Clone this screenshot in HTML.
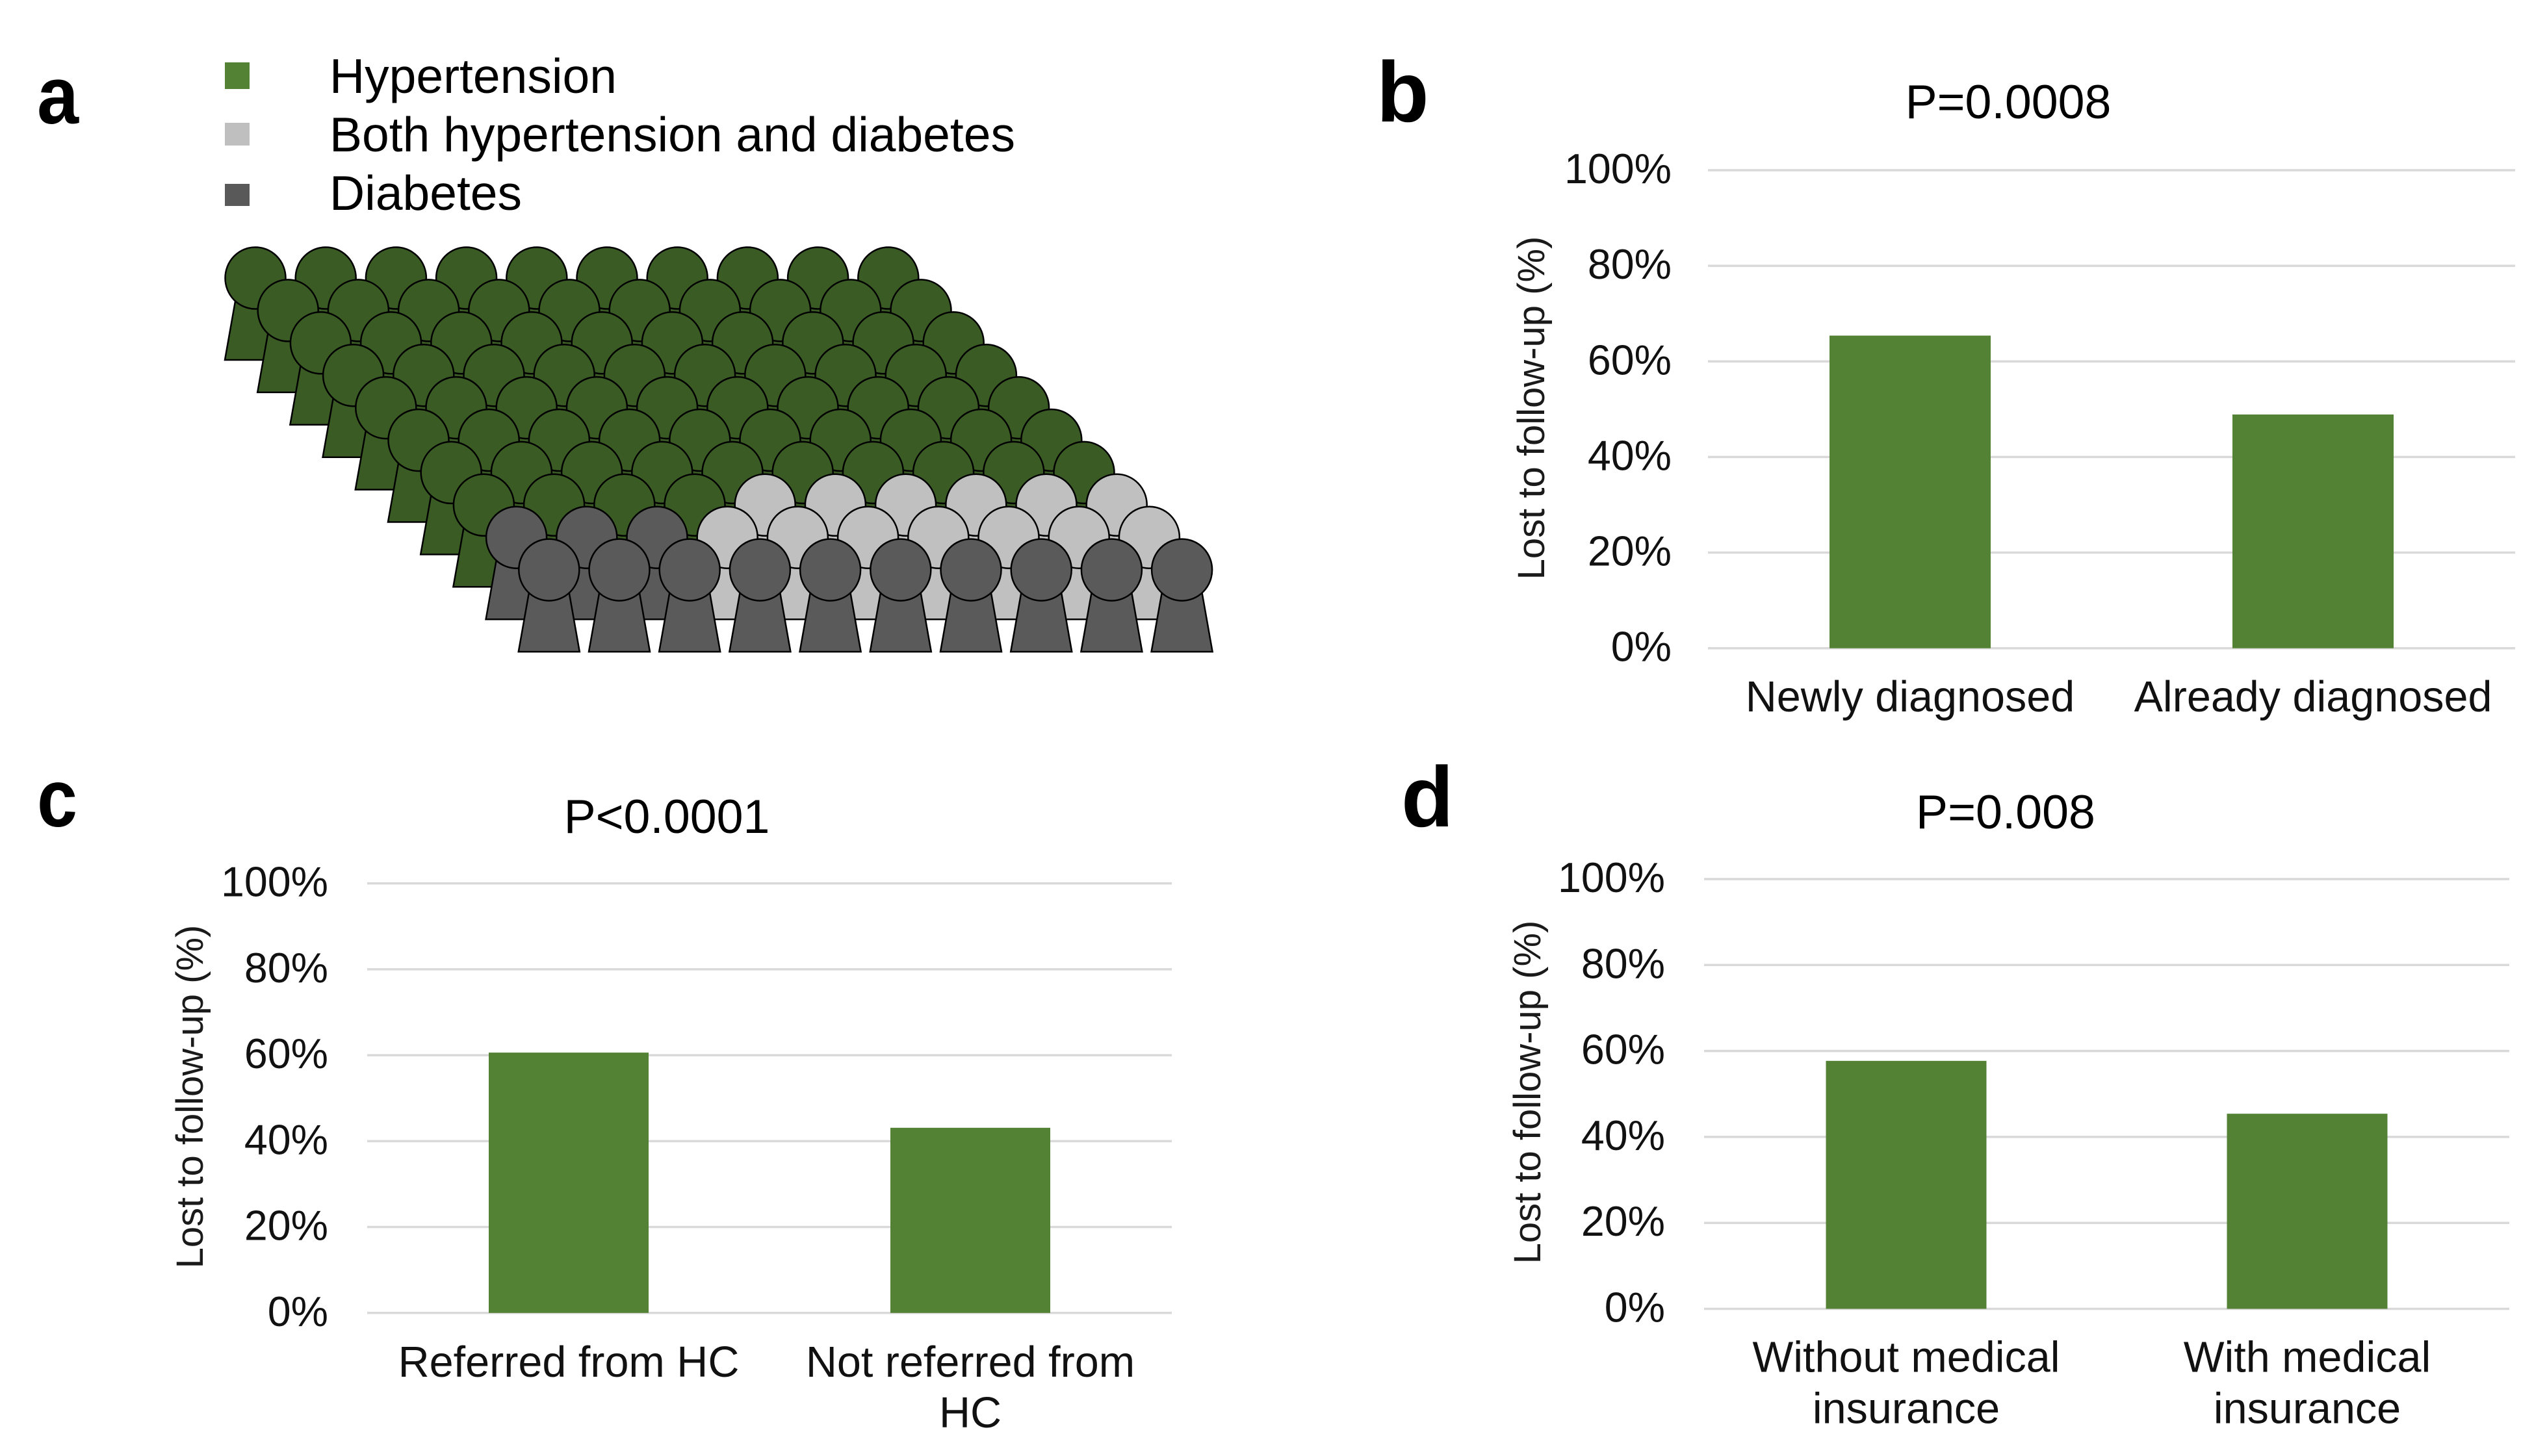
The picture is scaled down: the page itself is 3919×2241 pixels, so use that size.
<!DOCTYPE html>
<html lang="en">
<head>
<meta charset="utf-8">
<title>Lost to follow-up figure</title>
<style>
html,body{margin:0;padding:0;background:#fff;}
svg{display:block;}
text{font-family:"Liberation Sans",Arial,sans-serif;fill:#000;}
.panel-letter{font-weight:700;font-size:132px;}
.panel-letter-narrow{font-weight:700;font-size:125px;}
.legend-text{font-size:75px;}
.title{font-size:73.5px;text-anchor:middle;}
.y-title{font-size:58px;text-anchor:middle;fill:#1a1a1a;}
.tick{font-size:64.5px;text-anchor:end;fill:#111;}
.cat{font-size:66.5px;text-anchor:middle;fill:#111;}
</style>
</head>
<body>
<svg id="figure" xmlns="http://www.w3.org/2000/svg" width="3919" height="2241" viewBox="0 0 3919 2241">
  <rect x="0" y="0" width="3919" height="2241" fill="#ffffff"/>

  <text class="panel-letter-narrow" x="57" y="190" textLength="64" lengthAdjust="spacingAndGlyphs">a</text>
  <text class="panel-letter" x="2118" y="187">b</text>
  <text class="panel-letter-narrow" x="57" y="1272" textLength="62" lengthAdjust="spacingAndGlyphs">c</text>
  <text class="panel-letter" x="2156" y="1272">d</text>

  <g>
    <rect x="346" y="96" width="38" height="41" fill="#548235"/>
    <text class="legend-text" x="507" y="143">Hypertension</text>
    <rect x="346" y="189" width="38" height="35" fill="#bfbfbf"/>
    <text class="legend-text" x="507" y="233">Both hypertension and diabetes</text>
    <rect x="346" y="283" width="38" height="34" fill="#595959"/>
    <text class="legend-text" x="507" y="323">Diabetes</text>
  </g>

  <g id="pictogram"></g>

  <text class="title" x="3090" y="182">P=0.0008</text>
  <text class="y-title" transform="translate(2376 628) rotate(-90)">Lost to follow-up (%)</text>
  <g id="chart-b"></g>

  <text class="title" x="1026" y="1282">P&lt;0.0001</text>
  <text class="y-title" transform="translate(312 1688) rotate(-90)">Lost to follow-up (%)</text>
  <g id="chart-c"></g>

  <text class="title" x="3086" y="1275">P=0.008</text>
  <text class="y-title" transform="translate(2370 1681) rotate(-90)">Lost to follow-up (%)</text>
  <g id="chart-d"></g>
</svg>

<script>
// ---- Chart data ----
const tickValues = [0, 20, 40, 60, 80, 100];
const tickLabels = ["0%", "20%", "40%", "60%", "80%", "100%"];

const panelBCategories = [["Newly diagnosed"], ["Already diagnosed"]];
const panelBValues = [65.4, 48.9];

const panelCCategories = [["Referred from HC"], ["Not referred from", "HC"]];
const panelCValues = [60.6, 43.1];

const panelDCategories = [["Without medical", "insurance"], ["With medical", "insurance"]];
const panelDValues = [57.7, 45.4];

// Pictogram: people per row (back row first)
const rowHypertension = [10, 10, 10, 10, 10, 10, 10, 4, 0, 0];
const rowDiabetes     = [0, 0, 0, 0, 0, 0, 0, 0, 3, 10];
const rowBoth         = [0, 0, 0, 0, 0, 0, 0, 6, 7, 0];

// ---- Drawing ----
const NS = "http://www.w3.org/2000/svg";

function make(tag, parent, attrs) {
  const el = document.createElementNS(NS, tag);
  for (const k in attrs) el.setAttribute(k, attrs[k]);
  parent.appendChild(el);
  return el;
}

function drawChart(parentId, categories, values, frame) {
  const parent = document.getElementById(parentId);
  const yScale = v => frame.y0 + (frame.y100 - frame.y0) * v / 100;

  tickValues.forEach((t, i) => {
    const grid = make("line", parent, {
      x1: frame.left, x2: frame.right, y1: yScale(t), y2: yScale(t),
      stroke: "#d9d9d9", "stroke-width": 3.5
    });
    
    

    const label = make("text", parent, {
      class: "tick", x: frame.tickRight, y: yScale(t) + 20
    });
    label.textContent = tickLabels[i];
    
    
  });

  values.forEach((v, i) => {
    const bar = make("rect", parent, {
      x: frame.barCenters[i] - frame.barWidth / 2,
      y: yScale(v),
      width: frame.barWidth,
      height: yScale(0) - yScale(v),
      fill: "#548235"
    });
    
    

    categories[i].forEach((line, j) => {
      const cat = make("text", parent, {
        class: "cat", x: frame.barCenters[i], y: frame.catBaseline + j * frame.catLeading
      });
      cat.textContent = line;
      
      
    });
  });
}

drawChart("chart-b", panelBCategories, panelBValues, {
  left: 2628, right: 3870, y0: 997.7, y100: 262, tickRight: 2572,
  barCenters: [2939, 3559], barWidth: 248, catBaseline: 1095, catLeading: 78
});
drawChart("chart-c", panelCCategories, panelCValues, {
  left: 565, right: 1803, y0: 2020.8, y100: 1359.6, tickRight: 505,
  barCenters: [875, 1493], barWidth: 246, catBaseline: 2119, catLeading: 78
});
drawChart("chart-d", panelDCategories, panelDValues, {
  left: 2622, right: 3861, y0: 2014.5, y100: 1353, tickRight: 2562,
  barCenters: [2933, 3550], barWidth: 247, catBaseline: 2111.5, catLeading: 79
});

function drawPerson(parent, cx, cy, fill) {
  const group = make("g", parent, {});
  
  

  const pts = [
    [cx - 30, cy + 30], [cx + 30, cy + 30],
    [cx + 47, cy + 126], [cx - 47, cy + 126]
  ].map(p => p.join(",")).join(" ");
  make("polygon", group, { points: pts, fill: fill, stroke: "#000", "stroke-width": 2.5, "stroke-linejoin": "miter" });
  make("ellipse", group, { cx: cx, cy: cy, rx: 46.5, ry: 47.5, fill: fill, stroke: "#000", "stroke-width": 2.5 });
}

const pictogram = document.getElementById("pictogram");
rowHypertension.forEach((_, r) => {
  const rowFills = [];
  for (let i = 0; i < rowHypertension[r]; i++) rowFills.push("#3a5c24");
  for (let i = 0; i < rowDiabetes[r]; i++) rowFills.push("#5a5a5a");
  for (let i = 0; i < rowBoth[r]; i++) rowFills.push("#c0c0c0");
  rowFills.forEach((fill, c) => {
    drawPerson(pictogram, 393 + r * 50.2 + c * 108.2, 428 + r * 49.9, fill);
  });
});
</script>
</body>
</html>
